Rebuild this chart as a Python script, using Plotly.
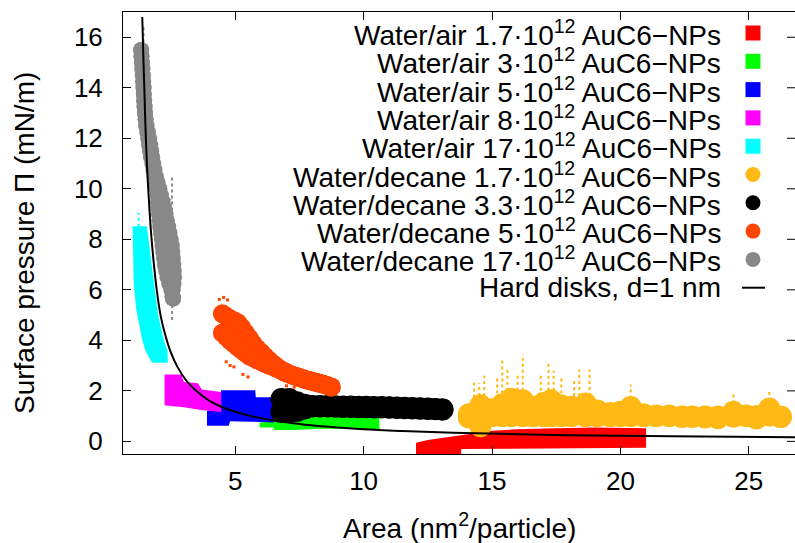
import plotly.graph_objects as go

# ---------------- data ----------------
# Water/air series: outlines of the dense square-point clouds (x, y)
red_x = [12.04, 12.04, 12.5, 13.3, 14.2, 15.0, 16.0, 17.5, 19.0, 21.0, 21.0, 17.0, 13.8, 13.8]
red_y = [-0.6, -0.05, 0.05, 0.18, 0.3, 0.42, 0.48, 0.52, 0.55, 0.52, -0.25, -0.28, -0.3, -0.6]

green_x = [5.95, 5.95, 6.6, 7.5, 8.5, 10.6, 10.62, 9.3, 8.3, 7.3, 6.5, 6.5]
green_y = [0.55, 0.75, 0.8, 0.9, 1.05, 1.08, 0.48, 0.48, 0.5, 0.45, 0.45, 0.55]

blue_x = [3.9, 3.9, 4.45, 4.45, 5.78, 5.8, 6.5, 6.5, 5.6, 4.8, 4.75]
blue_y = [0.62, 1.2, 1.2, 2.02, 2.02, 1.75, 1.75, 0.75, 0.78, 0.8, 0.62]

magenta_x = [2.25, 2.25, 2.9, 3.0, 3.55, 3.7, 4.45, 4.45, 3.6, 3.0, 2.3]
magenta_y = [1.45, 2.65, 2.65, 2.35, 2.3, 2.05, 1.95, 1.15, 1.25, 1.35, 1.42]

cyan_x = [1.0, 1.02, 1.05, 1.15, 1.37, 1.5, 1.76, 2.38, 2.36, 2.21, 2.0, 1.82, 1.7, 1.56]
cyan_y = [8.52, 7.5, 6.2, 5.2, 4.04, 3.6, 3.11, 3.11, 3.6, 4.04, 5.0, 6.4, 7.5, 8.52]

# Water/decane series: circle centres along the two edges of each cloud
yellow_x = [14.1, 14.55, 15.0, 15.4, 15.75, 16.2, 16.6, 17.0, 17.3, 17.7, 18.1, 18.65, 19.1, 19.6,
            20.0, 20.4, 20.9, 21.4, 21.9, 22.4, 22.8, 23.3, 23.8, 24.4, 24.9, 25.3, 25.8, 26.25]
yellow_up = [1.07, 1.43, 1.27, 1.47, 1.69, 1.63, 1.37, 1.52, 1.63, 1.42, 1.37, 1.50, 1.22, 1.12,
             1.17, 1.36, 1.07, 1.02, 1.02, 0.97, 0.97, 0.95, 0.92, 1.17, 1.02, 0.91, 1.30, 0.97]
yellow_lo = [0.95, 0.60, 1.0, 1.0, 1.0, 1.0, 1.0, 1.0, 1.0, 1.0, 1.0, 1.0, 1.0, 1.0,
             1.0, 1.0, 1.0, 1.0, 1.0, 0.98, 0.98, 0.98, 0.98, 0.98, 1.0, 1.0, 1.02, 0.97]

black_x = [6.8, 7.1, 7.4, 7.7, 8.0, 8.3, 8.6, 8.9, 9.2, 9.5, 9.8, 10.1, 10.4, 10.7, 11.0,
           11.3, 11.6, 11.9, 12.2, 12.5, 12.8, 13.07]
black_up = [1.68, 1.68, 1.55, 1.45, 1.40, 1.40, 1.40, 1.39, 1.38, 1.38, 1.37, 1.37, 1.36, 1.36, 1.35,
            1.34, 1.33, 1.32, 1.31, 1.30, 1.28, 1.26]
black_lo = [1.16, 1.16, 1.20, 1.30, 1.38, 1.38, 1.38, 1.37, 1.36, 1.36, 1.35, 1.35, 1.34, 1.34, 1.33,
            1.32, 1.31, 1.30, 1.29, 1.28, 1.27, 1.26]

orange_x = [4.5, 4.65, 4.8, 4.95, 5.1, 5.25, 5.4, 5.55, 5.7, 5.85, 6.0, 6.15, 6.3, 6.45, 6.6,
            6.75, 6.9, 7.05, 7.2, 7.35, 7.5, 7.65, 7.8, 7.95, 8.1, 8.25, 8.4, 8.55, 8.74]
orange_up = [5.05, 4.95, 4.85, 4.78, 4.70, 4.51, 4.29, 4.08, 3.86, 3.68, 3.53, 3.37, 3.22, 3.08, 2.97,
             2.86, 2.78, 2.69, 2.63, 2.58, 2.53, 2.48, 2.43, 2.39, 2.35, 2.31, 2.27, 2.22, 2.15]
orange_lo = [4.29, 4.14, 3.99, 3.86, 3.74, 3.62, 3.50, 3.38, 3.31, 3.23, 3.16, 3.08, 3.02, 2.96, 2.89,
             2.83, 2.75, 2.69, 2.63, 2.58, 2.53, 2.48, 2.43, 2.39, 2.35, 2.31, 2.27, 2.22, 2.15]
# stray orange points around the cloud
orange_dots_x = [4.38, 4.55, 4.7, 5.45, 5.6, 5.7, 4.65, 4.8, 4.95, 6.1, 6.25, 6.4, 5.3, 5.5, 7.0, 7.3]
orange_dots_y = [5.62, 5.7, 5.6, 4.3, 4.1, 3.95, 3.15, 3.0, 2.95, 3.55, 3.4, 3.25, 2.65, 2.55, 2.2, 2.15]

gray_y = [15.5, 15.25, 15.0, 14.75, 14.5, 14.25, 14.0, 13.75, 13.5, 13.25, 13.0, 12.75, 12.5, 12.25,
          12.0, 11.75, 11.5, 11.25, 11.0, 10.75, 10.5, 10.25, 10.0, 9.75, 9.5, 9.25, 9.0, 8.75,
          8.5, 8.25, 8.0, 7.75, 7.5, 7.25, 7.0, 6.75, 6.5, 6.25, 6.0, 5.75, 5.65]
gray_left = [1.335, 1.35, 1.37, 1.385, 1.40, 1.415, 1.43, 1.44, 1.455, 1.47, 1.485, 1.51, 1.53, 1.57,
             1.61, 1.64, 1.68, 1.72, 1.77, 1.81, 1.86, 1.91, 1.95, 1.97, 1.99, 2.01, 2.03, 2.055,
             2.08, 2.11, 2.14, 2.17, 2.20, 2.23, 2.26, 2.31, 2.36, 2.43, 2.51, 2.56, 2.58]
gray_right = [1.335, 1.35, 1.37, 1.385, 1.40, 1.415, 1.43, 1.44, 1.455, 1.47, 1.485, 1.51, 1.55, 1.60,
              1.65, 1.69, 1.73, 1.77, 1.81, 1.86, 1.91, 1.98, 2.05, 2.11, 2.17, 2.23, 2.29, 2.34,
              2.39, 2.44, 2.49, 2.53, 2.55, 2.57, 2.59, 2.61, 2.62, 2.60, 2.57, 2.56, 2.58]

# dotted error bars (x, from, to)
yerr_x = [14.3, 14.5, 14.7, 15.2, 15.4, 15.6, 16.0, 16.2, 16.9, 17.2, 17.4, 17.7, 18.2, 18.4, 18.8, 20.4, 24.4, 25.8]
yerr_lo = [1.5, 1.8, 1.8, 1.9, 1.9, 2.0, 2.0, 2.0, 2.0, 2.0, 2.0, 1.9, 1.8, 1.8, 1.8, 1.7, 1.5, 1.6]
yerr_hi = [2.45, 2.3, 2.6, 2.5, 3.3, 2.9, 2.7, 3.45, 2.6, 3.18, 2.8, 2.6, 2.5, 2.85, 2.85, 2.25, 1.9, 2.06]
gerr_x = [1.43, 2.54, 2.48, 2.54]
gerr_lo = [15.8, 8.9, 8.6, 5.4]
gerr_hi = [16.4, 10.5, 9.6, 4.8]
cerr_x = [1.24]
cerr_lo = [8.5]
cerr_hi = [9.05]

# hard-disk equation of state, d = 1 nm
hd_x = [1.38, 1.42, 1.46, 1.50, 1.56, 1.63, 1.72, 1.82, 1.95, 2.1, 2.28, 2.5, 2.75, 3.1, 3.5,
        4.0, 4.5, 5.0, 5.7, 6.5, 7.5, 8.5, 10, 11.5, 13.5, 16, 19, 22, 24.5, 26.8]
hd_y = [16.8, 15.3, 14.0, 12.6, 11.0, 9.7, 8.3, 7.15, 5.95, 4.95, 4.2, 3.5, 2.95, 2.4, 1.98,
        1.6, 1.35, 1.17, 0.98, 0.83, 0.69, 0.59, 0.48, 0.41, 0.34, 0.28, 0.23, 0.2, 0.18, 0.16]

x_ticks = [5, 10, 15, 20, 25]
y_ticks = [0, 2, 4, 6, 8, 10, 12, 14, 16]

legend_labels = [
    "Water/air 1.7·10<sup>12</sup> AuC6−NPs",
    "Water/air 3·10<sup>12</sup> AuC6−NPs",
    "Water/air 5·10<sup>12</sup> AuC6−NPs",
    "Water/air 8·10<sup>12</sup> AuC6−NPs",
    "Water/air 17·10<sup>12</sup> AuC6−NPs",
    "Water/decane 1.7·10<sup>12</sup> AuC6−NPs",
    "Water/decane 3.3·10<sup>12</sup> AuC6−NPs",
    "Water/decane 5·10<sup>12</sup> AuC6−NPs",
    "Water/decane 17·10<sup>12</sup> AuC6−NPs",
    "Hard disks, d=1 nm",
]
colors = ["#ff0000", "#00ff00", "#0000ff", "#ff00ff", "#00ffff",
          "#ffb914", "#000000", "#ff4500", "#888888", "#000000"]
symbols = ["rect"] * 5 + ["circle"] * 4 + ["line"]

# ---------------- figure ----------------
FONT = "Liberation Sans, Arial, sans-serif"
FS_TEXT = 28
FS_TICK = 26
fig = go.Figure()


def poly(xs, ys, color):
    fig.add_trace(go.Scatter(x=xs + xs[:1], y=ys + ys[:1], mode="lines", fill="toself",
                             fillcolor=color, line=dict(width=0, color=color),
                             hoverinfo="skip", showlegend=False))


def band(xa, ya, xb, yb, color, size):
    fig.add_trace(go.Scatter(x=xa + xb[::-1], y=ya + yb[::-1], mode="lines", fill="toself",
                             fillcolor=color, line=dict(width=0, color=color),
                             hoverinfo="skip", showlegend=False))
    fig.add_trace(go.Scatter(x=xa + xb, y=ya + yb, mode="markers",
                             marker=dict(size=size, color=color, line=dict(width=0)),
                             hoverinfo="skip", showlegend=False, cliponaxis=False))


def dots(xs, ys, color):
    fig.add_trace(go.Scatter(x=xs, y=ys, mode="markers",
                             marker=dict(size=3, symbol="square", color=color, line=dict(width=0)),
                             hoverinfo="skip", showlegend=False))


def errs(xs, lo, hi, color):
    ex, ey = [], []
    for x, a, b in zip(xs, lo, hi):
        ex += [x, x, None]
        ey += [a, b, None]
    fig.add_trace(go.Scatter(x=ex, y=ey, mode="lines",
                             line=dict(color=color, width=2, dash="dot"),
                             hoverinfo="skip", showlegend=False))


poly(red_x, red_y, colors[0])
poly(green_x, green_y, colors[1])
poly(blue_x, blue_y, colors[2])
poly(magenta_x, magenta_y, colors[3])
errs(cerr_x, cerr_lo, cerr_hi, colors[4])
poly(cyan_x, cyan_y, colors[4])
errs(yerr_x, yerr_lo, yerr_hi, colors[5])
band(yellow_x, yellow_up, yellow_x, yellow_lo, colors[5], 22)
band(black_x, black_up, black_x, black_lo, colors[6], 22)
dots(orange_dots_x, orange_dots_y, colors[7])
band(orange_x, orange_up, orange_x, orange_lo, colors[7], 19)
errs(gerr_x, gerr_lo, gerr_hi, colors[8])
band(gray_left, gray_y, gray_right, gray_y, colors[8], 16)

fig.add_trace(go.Scatter(x=hd_x, y=hd_y, mode="lines", line=dict(color="black", width=2, shape="spline"),
                         hoverinfo="skip", showlegend=False))

# ---------------- manual gnuplot-like key ----------------
L, R, T, B = 123, 795, 12, 454
W, H = R - L, B - T
text_x = (723 - L) / W
sym_x = (753 - L) / W
shapes = []
annotations = []
for i, (lab, col, sym) in enumerate(zip(legend_labels, colors, symbols)):
    py = 33 + 28.3 * i
    yp = (B - py) / H
    annotations.append(dict(text=lab, x=text_x, y=yp, xref="paper", yref="paper",
                            xanchor="right", yanchor="middle", showarrow=False,
                            font=dict(family=FONT, size=FS_TEXT, color="black")))
    if sym == "line":
        shapes.append(dict(type="line", xref="paper", yref="paper", xsizemode="pixel",
                           ysizemode="pixel", xanchor=sym_x, yanchor=yp,
                           x0=-11, x1=12, y0=0, y1=0, line=dict(color=col, width=2)))
    else:
        shapes.append(dict(type=sym, xref="paper", yref="paper", xsizemode="pixel",
                           ysizemode="pixel", xanchor=sym_x, yanchor=yp,
                           x0=-7.5, x1=7.5, y0=-7.5, y1=7.5,
                           fillcolor=col, line=dict(width=0)))

# right-hand mirrored ticks (no right border visible in the reference)
for v in y_ticks:
    shapes.append(dict(type="line", xref="paper", yref="y", xsizemode="pixel", xanchor=1,
                       x0=-8, x1=0, y0=v, y1=v, line=dict(color="black", width=1)))

# axis titles
annotations.append(dict(text="Area (nm<sup>2</sup>/particle)", x=0.5, y=(B - 526) / H,
                        xref="paper", yref="paper", xanchor="center", yanchor="middle",
                        showarrow=False, font=dict(family=FONT, size=FS_TEXT, color="black")))
annotations.append(dict(text="Surface pressure Π (mN/m)", x=(25 - L) / W, y=(B - 243) / H,
                        xref="paper", yref="paper", xanchor="center", yanchor="middle",
                        textangle=-90, showarrow=False,
                        font=dict(family=FONT, size=FS_TEXT, color="black")))

fig.update_layout(
    width=795, height=543,
    margin=dict(l=L, r=0, t=T, b=543 - B),
    paper_bgcolor="white", plot_bgcolor="white",
    showlegend=False,
    shapes=shapes, annotations=annotations,
    font=dict(family=FONT, size=FS_TICK, color="black"),
    xaxis=dict(range=[0.63, 26.8], tickvals=x_ticks, ticks="inside", ticklen=8, tickwidth=1,
               tickcolor="black", showline=True, linecolor="black", linewidth=1, mirror="ticks",
               showgrid=False, zeroline=False, ticklabelstandoff=4,
               tickfont=dict(family=FONT, size=FS_TICK, color="black")),
    yaxis=dict(range=[-0.5, 17], tickvals=y_ticks, ticks="inside", ticklen=8, tickwidth=1,
               tickcolor="black", showline=True, linecolor="black", linewidth=1,
               showgrid=False, zeroline=False, ticklabelstandoff=14,
               tickfont=dict(family=FONT, size=FS_TICK, color="black")),
)

fig.write_html("out.html")
